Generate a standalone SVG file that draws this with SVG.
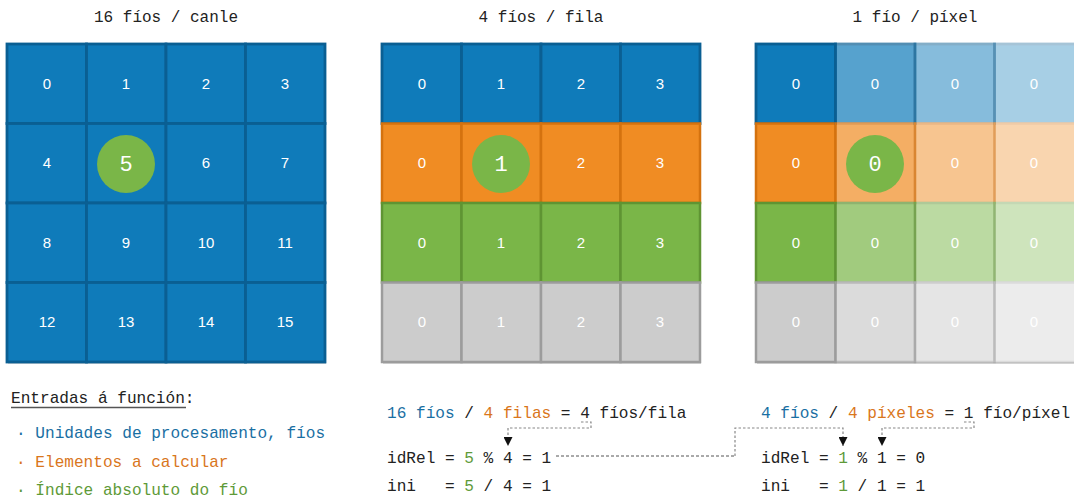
<svg xmlns="http://www.w3.org/2000/svg" width="1074" height="500" viewBox="0 0 1074 500">
<style>
.title{font-family:"Liberation Mono",monospace;font-size:16px;fill:#222;text-anchor:middle}
.mono{font-family:"Liberation Mono",monospace;font-size:16.1px;fill:#222;white-space:pre}
.num{font-family:"Liberation Sans",sans-serif;font-size:15px;fill:#fff;text-anchor:middle}
.big{font-family:"Liberation Mono",monospace;font-size:22px;fill:#fff;text-anchor:middle}
.blue{fill:#0f7bba;stroke:#0a5f93;stroke-width:2.8}
.orange{fill:#f08c23;stroke:#d4720f;stroke-width:2.5}
.green{fill:#7ab648;stroke:#5f9433;stroke-width:2.5}
.gray{fill:#cccccc;stroke:#9c9c9c;stroke-width:2.5}
.circ{fill:#7ab648}
.shadow{fill:#000;opacity:0.15}
.cb{fill:#1a6fa3}.co{fill:#d9761c}.cg{fill:#5e9a38}
.dash{fill:none;stroke:#888;stroke-width:1.2;stroke-dasharray:2.5,2}
.dash2{fill:none;stroke:#555;stroke-width:1;stroke-dasharray:3,2}
</style>
<defs>
<marker id="arr" viewBox="0 0 10 10" refX="10" refY="5" markerWidth="9" markerHeight="9" markerUnits="userSpaceOnUse" orient="auto">
<path d="M0,0 L10,5 L0,10 z" fill="#111"/>
</marker>
</defs>

<text class="title" x="166" y="22">16 fíos / canle</text>
<text class="title" x="541" y="22">4 fíos / fila</text>
<text class="title" x="915" y="22">1 fío / píxel</text>

<!-- Grid 1 -->
<g id="grid1">
<rect class="shadow" x="8" y="46" width="318" height="318"/>
<g class="blue">
<rect x="7" y="44" width="79.5" height="79.5"/><rect x="86.5" y="44" width="79.5" height="79.5"/><rect x="166" y="44" width="79.5" height="79.5"/><rect x="245.5" y="44" width="79.5" height="79.5"/>
<rect x="7" y="123.5" width="79.5" height="79.5"/><rect x="86.5" y="123.5" width="79.5" height="79.5"/><rect x="166" y="123.5" width="79.5" height="79.5"/><rect x="245.5" y="123.5" width="79.5" height="79.5"/>
<rect x="7" y="203" width="79.5" height="79.5"/><rect x="86.5" y="203" width="79.5" height="79.5"/><rect x="166" y="203" width="79.5" height="79.5"/><rect x="245.5" y="203" width="79.5" height="79.5"/>
<rect x="7" y="282.5" width="79.5" height="79.5"/><rect x="86.5" y="282.5" width="79.5" height="79.5"/><rect x="166" y="282.5" width="79.5" height="79.5"/><rect x="245.5" y="282.5" width="79.5" height="79.5"/>
</g>
<text class="num" x="47" y="89">0</text><text class="num" x="126" y="89">1</text><text class="num" x="206" y="89">2</text><text class="num" x="285" y="89">3</text>
<text class="num" x="47" y="168">4</text><text class="num" x="206" y="168">6</text><text class="num" x="285" y="168">7</text>
<text class="num" x="47" y="248">8</text><text class="num" x="126" y="248">9</text><text class="num" x="206" y="248">10</text><text class="num" x="285" y="248">11</text>
<text class="num" x="47" y="327">12</text><text class="num" x="126" y="327">13</text><text class="num" x="206" y="327">14</text><text class="num" x="285" y="327">15</text>
<circle class="circ" cx="126" cy="164" r="29"/>
<text class="big" x="126" y="171">5</text>
</g>

<!-- Grid 2 -->
<g id="grid2">
<rect class="shadow" x="383" y="46" width="318" height="318"/>
<g class="blue"><rect x="382" y="44" width="79.5" height="79.5"/><rect x="461.5" y="44" width="79.5" height="79.5"/><rect x="541" y="44" width="79.5" height="79.5"/><rect x="620.5" y="44" width="79.5" height="79.5"/></g>
<g class="orange"><rect x="382" y="123.5" width="79.5" height="79.5"/><rect x="461.5" y="123.5" width="79.5" height="79.5"/><rect x="541" y="123.5" width="79.5" height="79.5"/><rect x="620.5" y="123.5" width="79.5" height="79.5"/></g>
<g class="green"><rect x="382" y="203" width="79.5" height="79.5"/><rect x="461.5" y="203" width="79.5" height="79.5"/><rect x="541" y="203" width="79.5" height="79.5"/><rect x="620.5" y="203" width="79.5" height="79.5"/></g>
<g class="gray"><rect x="382" y="282.5" width="79.5" height="79.5"/><rect x="461.5" y="282.5" width="79.5" height="79.5"/><rect x="541" y="282.5" width="79.5" height="79.5"/><rect x="620.5" y="282.5" width="79.5" height="79.5"/></g>
<text class="num" x="422" y="89">0</text><text class="num" x="501" y="89">1</text><text class="num" x="581" y="89">2</text><text class="num" x="660" y="89">3</text>
<text class="num" x="422" y="168">0</text><text class="num" x="581" y="168">2</text><text class="num" x="660" y="168">3</text>
<text class="num" x="422" y="248">0</text><text class="num" x="501" y="248">1</text><text class="num" x="581" y="248">2</text><text class="num" x="660" y="248">3</text>
<text class="num" x="422" y="327">0</text><text class="num" x="501" y="327">1</text><text class="num" x="581" y="327">2</text><text class="num" x="660" y="327">3</text>
<circle class="circ" cx="501" cy="164" r="29"/>
<text class="big" x="501" y="171">1</text>
</g>

<!-- Grid 3 -->
<g id="grid3">
<rect class="shadow" x="757" y="46" width="318" height="318"/>
<rect x="756" y="44" width="318" height="318" fill="#fff"/>
<g>
<rect class="blue" x="756" y="44" width="79.5" height="79.5"/>
<rect class="orange" x="756" y="123.5" width="79.5" height="79.5"/>
<rect class="green" x="756" y="203" width="79.5" height="79.5"/>
<rect class="gray" x="756" y="282.5" width="79.5" height="79.5"/>
</g>
<g opacity="0.7">
<rect class="blue" x="835.5" y="44" width="79.5" height="79.5"/>
<rect class="orange" x="835.5" y="123.5" width="79.5" height="79.5"/>
<rect class="green" x="835.5" y="203" width="79.5" height="79.5"/>
<rect class="gray" x="835.5" y="282.5" width="79.5" height="79.5"/>
</g>
<g opacity="0.5">
<rect class="blue" x="915" y="44" width="79.5" height="79.5"/>
<rect class="orange" x="915" y="123.5" width="79.5" height="79.5"/>
<rect class="green" x="915" y="203" width="79.5" height="79.5"/>
<rect class="gray" x="915" y="282.5" width="79.5" height="79.5"/>
</g>
<g opacity="0.36">
<rect class="blue" x="994.5" y="44" width="81" height="79.5"/>
<rect class="orange" x="994.5" y="123.5" width="81" height="79.5"/>
<rect class="green" x="994.5" y="203" width="81" height="79.5"/>
<rect class="gray" x="994.5" y="282.5" width="81" height="79.5"/>
</g>
<text class="num" x="796" y="89">0</text><text class="num" x="875" y="89">0</text><text class="num" x="955" y="89">0</text><text class="num" x="1034" y="89">0</text>
<text class="num" x="796" y="168">0</text><text class="num" x="955" y="168">0</text><text class="num" x="1034" y="168">0</text>
<text class="num" x="796" y="248">0</text><text class="num" x="875" y="248">0</text><text class="num" x="955" y="248">0</text><text class="num" x="1034" y="248">0</text>
<text class="num" x="796" y="327">0</text><text class="num" x="875" y="327">0</text><text class="num" x="955" y="327">0</text><text class="num" x="1034" y="327">0</text>
<circle class="circ" cx="875" cy="164" r="29"/>
<text class="big" x="875" y="171">0</text>
</g>

<!-- Inputs legend -->
<g id="inputs">
<text class="mono" x="11" y="403">Entradas á función:</text>
<line x1="11" y1="407.5" x2="186" y2="407.5" stroke="#555" stroke-width="1.3"/>
<text class="mono cb" x="16" y="438">· Unidades de procesamento, fíos</text>
<text class="mono co" x="16" y="467">· Elementos a calcular</text>
<text class="mono cg" x="16" y="495">· Índice absoluto do fío</text>
</g>

<!-- Formulas 1 -->
<g id="calc1">
<text class="mono" x="387" y="418"><tspan class="cb">16 fíos</tspan> / <tspan class="co">4 filas</tspan> = 4 fíos/fila</text>
<text class="mono" x="387" y="463">idRel = <tspan class="cg">5</tspan> % 4 = 1</text>
<text class="mono" x="387" y="491">ini   = <tspan class="cg">5</tspan> / 4 = 1</text>
</g>

<!-- Formulas 2 -->
<g id="calc2">
<text class="mono" x="761" y="418"><tspan class="cb">4 fíos</tspan> / <tspan class="co">4 píxeles</tspan> = 1 fío/píxel</text>
<text class="mono" x="761" y="463">idRel = <tspan class="cg">1</tspan> % 1 = 0</text>
<text class="mono" x="761" y="491">ini   = <tspan class="cg">1</tspan> / 1 = 1</text>
</g>

<!-- Connectors -->
<g id="connectors">
<path class="dash" d="M581,422 H591 V428 H508 V446" marker-end="url(#arr)"/>
<path class="dash2" d="M556,456 H735"/>
<path class="dash" d="M735,456 V428 H843 V446" marker-end="url(#arr)"/>
<path class="dash" d="M964,422 H974 V428 H882 V446" marker-end="url(#arr)"/>
</g>
</svg>
